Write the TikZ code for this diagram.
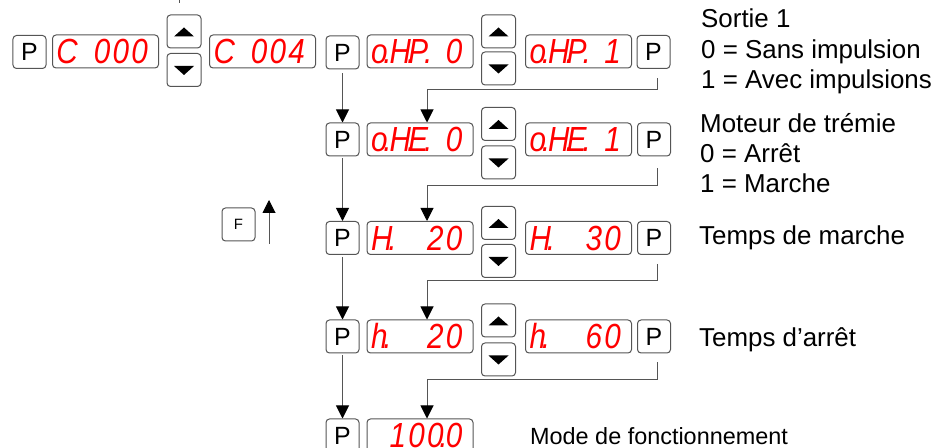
\documentclass[tikz,border=0pt]{standalone}
\usepackage{fontspec}
\setmainfont{Liberation Sans}
\newfontfamily\segfont[FakeStretch=0.85]{Liberation Sans}
\usetikzlibrary{arrows.meta}
\definecolor{edge}{RGB}{85,85,85}
\definecolor{segred}{RGB}{255,0,0}
\newcommand\cc[1]{\makebox[18.7bp][l]{#1}}
\newcommand\cd[1]{\makebox[18.7bp][l]{#1\makebox[0pt]{.}}}
\tikzset{
  box/.style={draw=edge, line width=1bp, rounded corners=3.5bp, inner sep=0pt},
  btn/.style={box, minimum width=33bp, minimum height=33bp, font=\fontsize{25}{25}\selectfont},
  fbtn/.style={box, minimum width=33bp, minimum height=33bp, font=\fontsize{15}{15}\selectfont},
  arrbtn/.style={box, minimum width=34bp, minimum height=33bp},
  disp/.style={box, minimum width=106bp, minimum height=33bp, inner xsep=4bp,
    text width=98bp, align=left, text=segred, font=\segfont\itshape\fontsize{35}{35}\selectfont},
  conn/.style={draw=edge, line width=1bp, -{Triangle[length=13bp,width=13bp,color=black]}},
  lbl/.style={anchor=base west, inner sep=0pt, font=\fontsize{26}{26}\selectfont},
}
\newcommand\uptri[1]{\fill ([shift={(-10,5)}]#1.center) -- ++(20,0) -- ++(-10,-9) -- cycle;}
\newcommand\dntri[1]{\fill ([shift={(-10,-4)}]#1.center) -- ++(20,0) -- ++(-10,9) -- cycle;}
\begin{document}
\begin{tikzpicture}[x=1bp,y=-1bp]
\useasboundingbox (0,0) rectangle (938,448);
\clip (0,0) rectangle (938,448);
% stray tick at top
\coordinate (tka) at (179,0);
\coordinate (tkb) at (179,3.5);
\draw[edge, line width=1bp] (tka) -- (tkb);
% Row 1
\node[btn] (pa1) at (29.5,52) {P};
\node[disp] (c0) at (105.5,51.5) {\cc{C}\cc{\ }\cc{0}\cc{0}\cc{0}};
\node[arrbtn] (ua0) at (184,31.5) {};
\node[arrbtn] (da0) at (184,70) {};
\uptri{ua0}\dntri{da0}
\node[disp] (c4) at (262.5,51.5) {\cc{C}\cc{\ }\cc{0}\cc{0}\cc{4}};
\node[btn] (pb1) at (342.5,52.5) {P};
\node[disp] (d1l) at (420,51.5) {\cd{o}\cd{H}\cd{P}\cc{\ }\cc{0}};
\node[arrbtn] (u1) at (498.5,31.5) {};
\node[arrbtn] (dn1) at (498.5,68.5) {};
\uptri{u1}\dntri{dn1}
\node[disp] (d1r) at (578.5,51.5) {\cd{o}\cd{H}\cd{P}\cc{\ }\cc{1}};
\node[btn] (pr1) at (653.5,52) {P};
% Row 2
\node[btn] (pb2) at (342.5,139.5) {P};
\node[disp] (d2l) at (420,139.5) {\cd{o}\cd{H}\cd{E}\cc{\ }\cc{0}};
\node[arrbtn] (u2) at (498.5,124) {};
\node[arrbtn] (dn2) at (498.5,162.5) {};
\uptri{u2}\dntri{dn2}
\node[disp] (d2r) at (578.5,139.5) {\cd{o}\cd{H}\cd{E}\cc{\ }\cc{1}};
\node[btn] (pr2) at (654,139.5) {P};
% Row 3
\node[fbtn] (fb) at (238.5,224.5) {F};
\coordinate (fa1) at (269,244);
\coordinate (fa2) at (269,200);
\draw[conn] (fa1) -- (fa2);
\node[btn] (pb3) at (342.5,238) {P};
\node[disp] (d3l) at (420,238) {\cd{H}\cc{\ }\cc{\ }\cc{2}\cc{0}};
\node[arrbtn] (u3) at (498.5,223) {};
\node[arrbtn] (dn3) at (498.5,261) {};
\uptri{u3}\dntri{dn3}
\node[disp] (d3r) at (578.5,238) {\cd{H}\cc{\ }\cc{\ }\cc{3}\cc{0}};
\node[btn] (pr3) at (654,238) {P};
% Row 4
\node[btn] (pb4) at (342.5,336.5) {P};
\node[disp] (d4l) at (420,336.5) {\cd{h}\cc{\ }\cc{\ }\cc{2}\cc{0}};
\node[arrbtn] (u4) at (498.5,320.5) {};
\node[arrbtn] (dn4) at (498.5,359.5) {};
\uptri{u4}\dntri{dn4}
\node[disp] (d4r) at (578.5,336.5) {\cd{h}\cc{\ }\cc{\ }\cc{6}\cc{0}};
\node[btn] (pr4) at (654,336.5) {P};
% Row 5
\node[btn] (pb5) at (342.5,435.5) {P};
\node[disp] (d5) at (420,435.5) {\cc{\ }\cc{1}\cc{0}\cd{0}\cc{0}};
% left chain
\draw[conn, shorten <=4bp] (pb1) -- (pb2);
\draw[conn, shorten <=2bp] (pb2) -- (pb3);
\draw[conn, shorten <=2bp] (pb3) -- (pb4);
\draw[conn, shorten <=2bp] (pb4) -- (pb5);
% right connectors
\draw[conn, shorten <=9.5bp] ([xshift=4bp]pr1.south) -- ++(0,20.5) -| ([xshift=7bp]d2l.north);
\draw[conn, shorten <=12bp] ([xshift=3bp]pr2.south) -- ++(0,29) -| ([xshift=7bp]d3l.north);
\draw[conn, shorten <=9bp] ([xshift=3bp]pr3.south) -- ++(0,25.5) -| ([xshift=7bp]d4l.north);
\draw[conn, shorten <=9bp] ([xshift=3bp]pr4.south) -- ++(0,26) -| ([xshift=7bp]d5.north);
% labels
\node[lbl] (s1) at (701,28) {Sortie 1};
\node[lbl] (s2) at (701,58.5) {0 = Sans impulsion};
\node[lbl] (s3) at (701,89) {1 = Avec impulsions};
\node[lbl] (m1) at (700,133) {Moteur de trémie};
\node[lbl] (m2) at (700,163) {0 = Arrêt};
\node[lbl] (m3) at (700,193) {1 = Marche};
\node[lbl] (t1) at (699,245) {Temps de marche};
\node[lbl] (t2) at (699,347) {Temps d’arrêt};
\node[lbl, font=\fontsize{23.5}{23.5}\selectfont] (mo) at (530,444) {Mode de fonctionnement};
\end{tikzpicture}
\end{document}
